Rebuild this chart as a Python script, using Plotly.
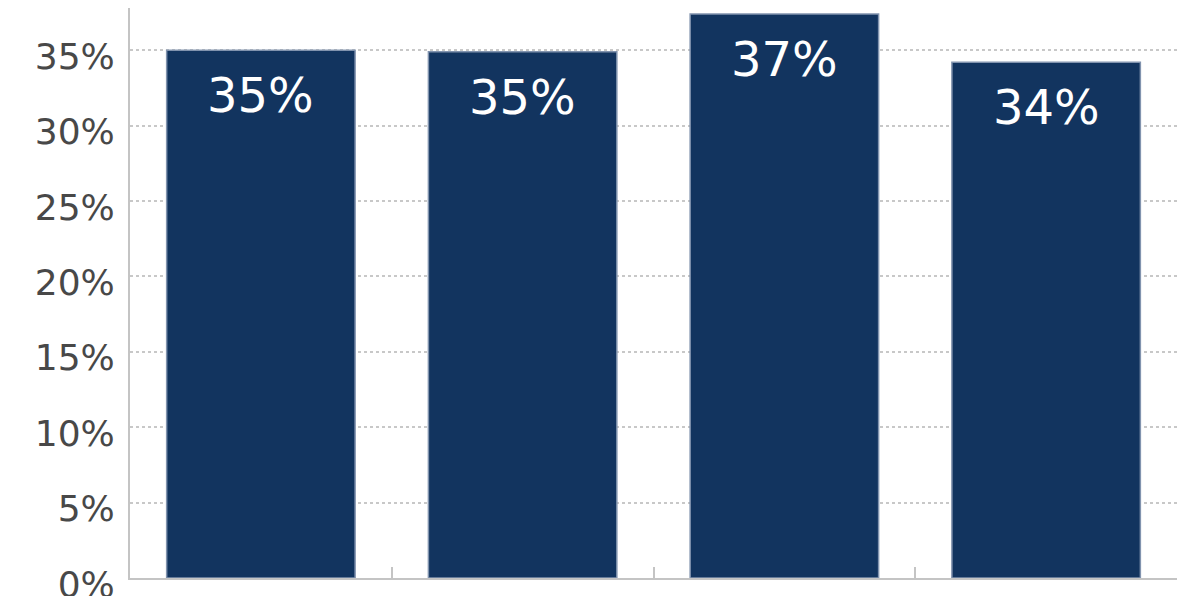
import plotly.graph_objects as go

categories = ["A", "B", "C", "D"]
values = [35.0, 34.9, 37.4, 34.2]
labels = ["35%", "35%", "37%", "34%"]
tick_vals = [0, 5, 10, 15, 20, 25, 30, 35]
tick_text = ["0%", "5%", "10%", "15%", "20%", "25%", "30%", "35%"]

fig = go.Figure()
fig.add_trace(go.Bar(
    x=categories, y=values,
    marker=dict(color="#12345f", line=dict(color="#8193ae", width=1.5)),
    hoverinfo="skip",
))

for c, v, t in zip(categories, values, labels):
    fig.add_annotation(x=c, y=v, text=t, showarrow=False, yanchor="middle",
                       yshift=-45, font=dict(family="DejaVu Sans", size=48, color="white"))

fig.update_layout(
    width=1192, height=588,
    margin=dict(l=122, r=23, t=0, b=18, autoexpand=False),
    paper_bgcolor="white", plot_bgcolor="white",
    bargap=0.28, showlegend=False,
)
fig.update_xaxes(
    showticklabels=False, showline=True, linecolor="#c4c4c4", linewidth=2,
    tickson="boundaries", ticks="inside", ticklen=11, tickwidth=2, tickcolor="#c4c4c4",
    showgrid=False, automargin=False,
)
fig.update_yaxes(
    range=[0, 37.8], tickvals=tick_vals, ticktext=tick_text,
    tickfont=dict(family="DejaVu Sans", size=36, color="#484848"),
    showline=True, linecolor="#c4c4c4", linewidth=2,
    showgrid=True, gridcolor="#c8c8c8", griddash="dot", gridwidth=1.5,
    zeroline=False, ticks="", ticklabelstandoff=6, ticklabelshift=6,
    ticklabeloverflow="allow", automargin=False,
)

fig.write_html("out.html")
